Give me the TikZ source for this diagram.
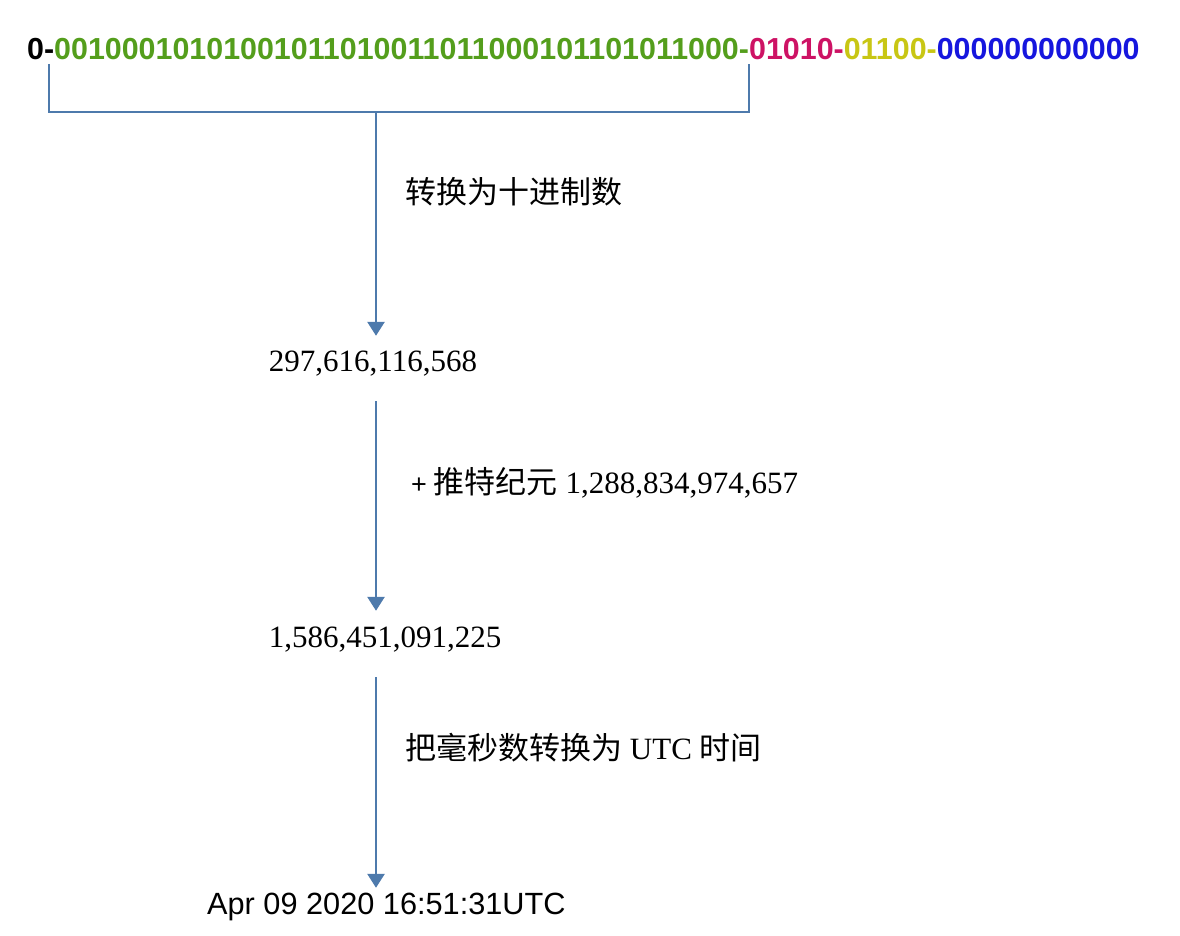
\documentclass[tikz,border=0pt]{standalone}
\usepackage{fontspec}
\setmainfont{Liberation Serif}
\newfontfamily\cjk{Noto Sans CJK SC}
\newfontfamily\arial{Liberation Sans}
\usetikzlibrary{arrows.meta}
\definecolor{lineblue}{RGB}{78,122,172}
\definecolor{bitgreen}{RGB}{84,158,28}
\definecolor{bitmag}{RGB}{205,18,100}
\definecolor{bityel}{RGB}{200,198,20}
\definecolor{bitblue}{RGB}{22,22,222}
\tikzset{
  conn/.style={draw=lineblue, line width=2.7pt},
  arr/.style={conn, -{Triangle[width=17pt,length=14pt]}},
  numtext/.style={inner sep=0pt, anchor=base, font=\fontsize{31}{31}\selectfont, text height=21pt, text depth=5pt},
  lbltext/.style={inner sep=0pt, anchor=base west, font=\fontsize{31}{31}\selectfont},
}
\begin{document}
\begin{tikzpicture}[x=1pt,y=-1pt]
\useasboundingbox (0,0) rectangle (1180,936);
% bit string
\node[inner sep=0pt, anchor=base west, font=\arial\bfseries\fontsize{30.4}{31}\selectfont] (bits) at (27,60)
 {0-\textcolor{bitgreen}{00100010101001011010011011000101101011000-}\textcolor{bitmag}{01010-}\textcolor{bityel}{01100-}\textcolor{bitblue}{000000000000}};
% bracket
\coordinate (bl) at (49,64);
\coordinate (br) at (749,64);
\coordinate (bm) at (376,112);
\draw[conn] (bl) -- (bl |- bm) -- (br |- bm) -- (br);
% nodes
\node[numtext] (n1) at (373,371) {297,616,116,568};
\node[numtext] (n2) at (385,647) {1,586,451,091,225};
\node[inner sep=0pt, anchor=base west, font=\arial\fontsize{30.7}{31}\selectfont, text height=22pt, text depth=6pt] (n3) at (207,914) {Apr 09 2020 16:51:31UTC};
% labels
\node[lbltext] (l1) at (405,204) {\cjk 转换为十进制数};
\node[lbltext] (l2) at (411,493) {{\arial\fontsize{27}{27}\selectfont +}\hspace{7pt}{\cjk 推特纪元} 1,288,834,974,657};
\node[lbltext] (l3) at (405,759) {{\cjk 把毫秒数转换为} UTC {\cjk 时间}};
% arrows
\draw[arr, shorten >=14pt] (bm) -- (bm |- n1.north);
\draw[arr, shorten <=25pt, shorten >=15pt] (n1.south -| bm) -- (n2.north -| bm);
\draw[arr, shorten <=25pt, shorten >=4pt] (n2.south -| bm) -- (n3.north -| bm);
\end{tikzpicture}
\end{document}
